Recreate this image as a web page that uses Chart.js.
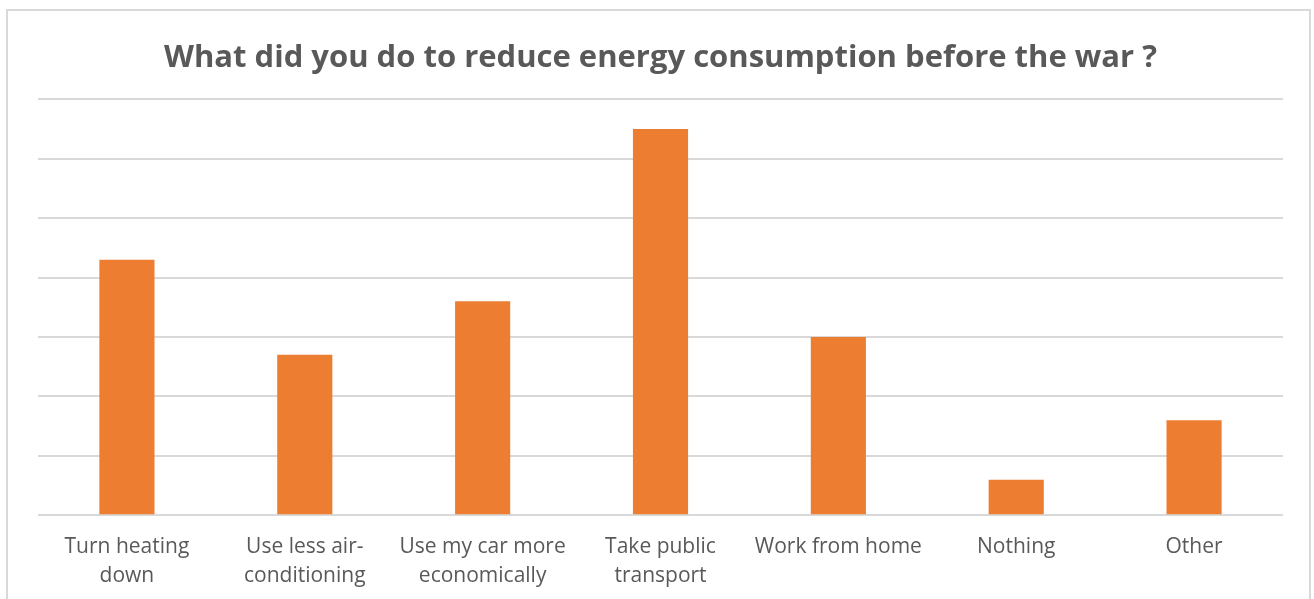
<!DOCTYPE html>
<html>
<head>
<meta charset="utf-8">
<script src="https://cdn.jsdelivr.net/npm/chart.js@4"></script>
<style>
  html, body { margin: 0; padding: 0; background: #fff; overflow: hidden; }
  #frame { position: absolute; left: 6px; top: 9px; width: 1305px; height: 620px; border: 2px solid #d9d9d9; box-sizing: border-box; }
  #wrap { position: absolute; left: 0; top: 0; width: 1314px; height: 599px; }
</style>
</head>
<body>
<div id="frame"></div>
<div id="wrap"><canvas id="chart"></canvas></div>
<script>
// Survey answers
const categories = [
    ['Turn heating', 'down'],
    ['Use less air-', 'conditioning'],
    ['Use my car more', 'economically'],
    ['Take public', 'transport'],
    'Work from home',
    'Nothing',
    'Other'
];
const responses = [43, 27, 36, 65, 30, 6, 16];
const axisMax = 70;
const axisStep = 10;

const textColor = '#595959';
const gridColor = '#d9d9d9';

new Chart(document.getElementById('chart'), {
    type: 'bar',
    data: {
        labels: categories,
        datasets: [{
            label: 'Responses',
            data: responses,
            backgroundColor: '#ed7d31',
            barPercentage: 0.31,
            categoryPercentage: 1
        }]
    },
    options: {
        responsive: true,
        maintainAspectRatio: false,
        animation: false,
        layout: {
            padding: { left: 38, right: 31, top: 40, bottom: -1 }
        },
        plugins: {
            legend: { display: false },
            tooltip: { enabled: false },
            title: {
                display: true,
                text: 'What did you do to reduce energy consumption before the war ?',
                color: textColor,
                font: { family: 'Open Sans', size: 31, weight: 'bold', lineHeight: 1.2 },
                padding: { top: 0, bottom: 22 }
            }
        },
        scales: {
            x: {
                grid: { display: false },
                border: { display: false },
                ticks: {
                    color: textColor,
                    font: { family: 'Open Sans', size: 21, lineHeight: 1.35 },
                    maxRotation: 0,
                    padding: 10
                }
            },
            y: {
                min: 0,
                max: axisMax,
                ticks: { stepSize: axisStep, display: false },
                grid: { color: gridColor, lineWidth: 2, drawTicks: false },
                border: { display: false }
            }
        }
    }
});
</script>
</body>
</html>
